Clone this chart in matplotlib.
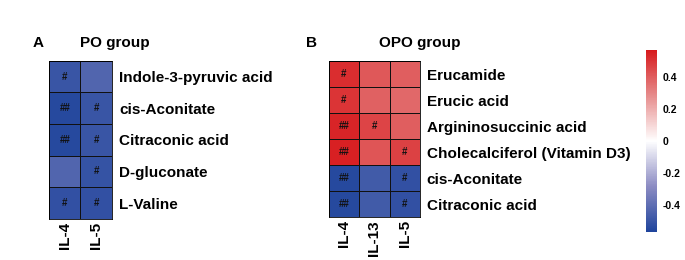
import numpy as np
import matplotlib
matplotlib.use("Agg")
import matplotlib.pyplot as plt
from matplotlib.colors import LinearSegmentedColormap, Normalize

plt.rcParams['font.family'] = ['Liberation Sans', 'DejaVu Sans']
plt.rcParams['font.weight'] = 'bold'

# --- data ---
po_rows = ["Indole-3-pyruvic acid", "cis-Aconitate", "Citraconic acid", "D-gluconate", "L-Valine"]
po_cols = ["IL-4", "IL-5"]
po_vals = [[-0.50, -0.44],
           [-0.55, -0.50],
           [-0.55, -0.50],
           [-0.44, -0.51],
           [-0.52, -0.52]]
po_marks = [["#", ""],
            ["##", "#"],
            ["##", "#"],
            ["", "#"],
            ["#", "#"]]

opo_rows = ["Erucamide", "Erucic acid", "Argininosuccinic acid",
            "Cholecalciferol (Vitamin D3)", "cis-Aconitate", "Citraconic acid"]
opo_cols = ["IL-4", "IL-13", "IL-5"]
opo_vals = [[0.52, 0.41, 0.40],
            [0.50, 0.39, 0.37],
            [0.54, 0.46, 0.40],
            [0.55, 0.42, 0.47],
            [-0.55, -0.48, -0.52],
            [-0.55, -0.48, -0.52]]
opo_marks = [["#", "", ""],
             ["#", "", ""],
             ["##", "#", ""],
             ["##", "", "#"],
             ["##", "", "#"],
             ["##", "", "#"]]

vlim = 0.57
cmap = LinearSegmentedColormap.from_list(
    "bwr2", ["#1f449c", "#8c8cc3", "#ffffff", "#e68c8c", "#d7191c"])
norm = Normalize(-vlim, vlim)

fig = plt.figure(figsize=(6.85, 2.6), dpi=100)


def heat(rect, vals, marks, rows, cols):
    ax = fig.add_axes(rect)
    v = np.array(vals)
    ax.pcolormesh(v, cmap=cmap, norm=norm, edgecolors="#111111", linewidth=0.6)
    ax.set_xlim(0, v.shape[1])
    ax.set_ylim(v.shape[0], 0)
    for i in range(v.shape[0]):
        for j in range(v.shape[1]):
            if marks[i][j]:
                ax.text(j + 0.5, i + 0.5, marks[i][j], ha="center", va="center",
                        fontsize=7, fontweight="bold", color="#111111")
    ax.set_yticks(np.arange(v.shape[0]) + 0.5)
    ax.set_yticklabels(rows, fontsize=11, fontweight="bold")
    ax.yaxis.tick_right()
    ax.set_xticks(np.arange(v.shape[1]) + 0.5)
    ax.set_xticklabels(cols, rotation=90, fontsize=11, fontweight="bold")
    ax.tick_params(axis="y", length=0, pad=5)
    ax.tick_params(axis="x", length=0, pad=2)
    for s in ax.spines.values():
        s.set_linewidth(0.6)
    return ax


axA = heat([0.0715, 0.158, 0.092, 0.608], po_vals, po_marks, po_rows, po_cols)
axB = heat([0.480, 0.165, 0.133, 0.600], opo_vals, opo_marks, opo_rows, opo_cols)

fig.text(0.056, 0.835, "A", fontsize=11, fontweight="bold", va="center", ha="center")
fig.text(0.168, 0.835, "PO group", fontsize=11, fontweight="bold", va="center", ha="center")
fig.text(0.455, 0.835, "B", fontsize=11, fontweight="bold", va="center", ha="center")
fig.text(0.613, 0.835, "OPO group", fontsize=11, fontweight="bold", va="center", ha="center")

cax = fig.add_axes([0.943, 0.108, 0.016, 0.70])
sm = plt.cm.ScalarMappable(norm=norm, cmap=cmap)
cb = fig.colorbar(sm, cax=cax)
cb.set_ticks([-0.4, -0.2, 0, 0.2, 0.4])
cb.set_ticklabels(["-0.4", "-0.2", "0", "0.2", "0.4"])
cb.outline.set_visible(False)
cax.tick_params(length=0, labelsize=7.5, pad=4)
for t in cax.get_yticklabels():
    t.set_fontweight("bold")

fig.savefig("out.png", dpi=100)
